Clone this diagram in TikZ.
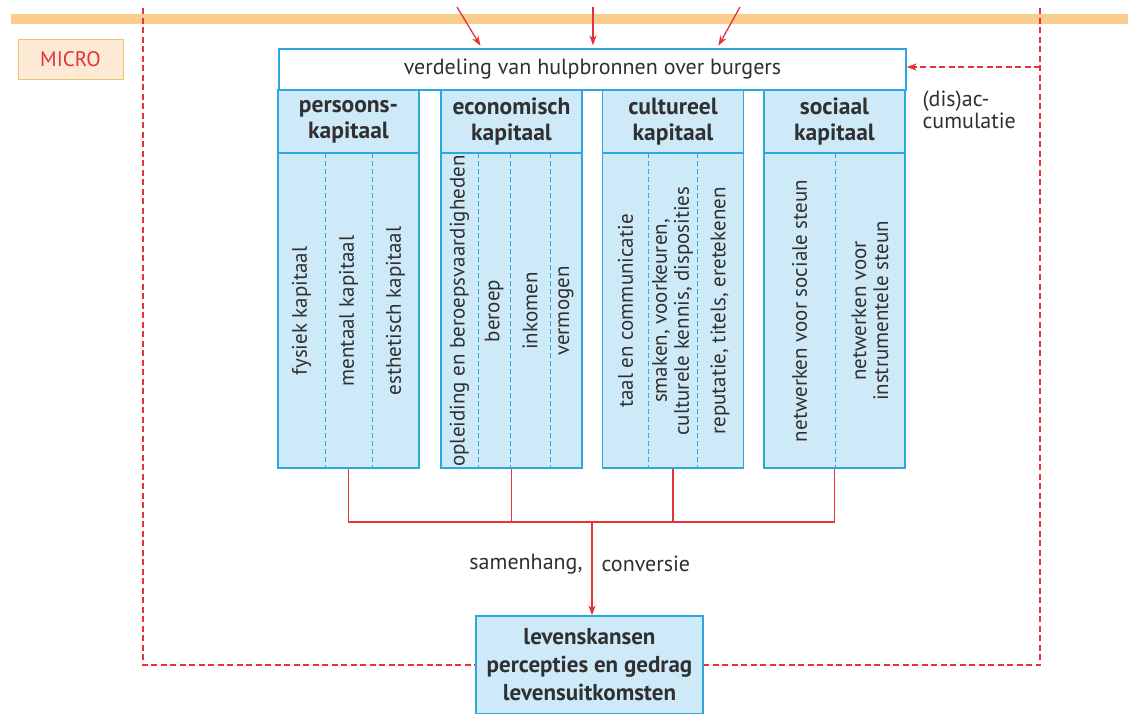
\documentclass[tikz,border=0pt]{standalone}
\usepackage{fontspec}
\setmainfont{PT Sans}
\usetikzlibrary{arrows.meta}
\definecolor{kapblauw}{RGB}{45,168,222}
\definecolor{kapvul}{RGB}{206,234,248}
\definecolor{kaprood}{RGB}{228,50,56}
\definecolor{kaporanje}{RGB}{250,204,142}
\definecolor{microvul}{RGB}{253,234,214}
\definecolor{microlijn}{RGB}{240,196,104}
\definecolor{kaptekst}{RGB}{48,48,48}

\begin{document}
\begin{tikzpicture}[x=1pt, y=-1pt, >={Stealth[length=10pt, width=7pt]},
    every node/.style={text=kaptekst, font=\fontsize{22}{22}\selectfont},
    kolom/.style={draw=kapblauw, fill=kapvul, line width=1.3pt},
    kop/.style={kolom, minimum width=141, minimum height=63, align=center,
      font=\bfseries\fontsize{23.5}{26}\selectfont},
    deel/.style={kolom, minimum width=141, minimum height=315},
    scheiding/.style={draw=kapblauw, line width=0.9pt, dash pattern=on 5pt off 3pt},
    staand/.style={rotate=90, align=center, font=\fontsize{21}{22}\selectfont},
    rood/.style={draw=kaprood, line width=1.3pt},
    terug/.style={draw=kaprood, line width=1.4pt, dash pattern=on 6pt off 3.5pt}]
    \clip (0, 0) rectangle (1128, 713);
    % band
    \draw[kaporanje, line width=10pt] (11, 19) -- (1128, 19);
    \node[draw=microlijn, fill=microvul, line width=1pt, minimum width=105, minimum height=40,
      text=kaprood, font=\fontsize{21}{22}\selectfont] (micro) at (70.5, 59) {MICRO};
    % verdeling
    \node[draw=kapblauw, fill=white, line width=1.3pt, minimum width=627, minimum height=41]
      (verdeling) at (592.5, 69.5) {verdeling van hulpbronnen over burgers};
    % kapitaalsoorten
    \node[kop] (pkop) at (348.5, 121.5) {persoons-\\kapitaal};
    \node[kop] (ekop) at (511.5, 121.5) {economisch\\kapitaal};
    \node[kop] (ckop) at (673, 121.5) {cultureel\\kapitaal};
    \node[kop] (skop) at (834.5, 121.5) {sociaal\\kapitaal};
    \node[deel] (pdeel) at (348.5, 310.5) {};
    \node[deel] (edeel) at (511.5, 310.5) {};
    \node[deel] (cdeel) at (673, 310.5) {};
    \node[deel] (sdeel) at (834.5, 310.5) {};
    \foreach \x in {325, 372, 478, 510, 550, 648, 697, 835}
      \draw[scheiding] (\x, 153) -- (\x, 468);
    \node[staand] (fysiek) at (301.5, 311) {fysiek kapitaal};
    \node[staand] (mentaal) at (348.5, 311) {mentaal kapitaal};
    \node[staand] (esthetisch) at (395.5, 311) {esthetisch kapitaal};
    \node[staand] (opleiding) at (459.5, 311) {opleiding en beroepsvaardigheden};
    \node[staand] (beroep) at (494, 311) {beroep};
    \node[staand] (inkomen) at (530, 311) {inkomen};
    \node[staand] (vermogen) at (566, 311) {vermogen};
    \node[staand] (taal) at (625.5, 311) {taal en communicatie};
    \node[staand] (smaken) at (672.5, 311) {smaken, voorkeuren,\\culturele kennis, disposities};
    \node[staand] (reputatie) at (720, 311) {reputatie, titels, eretekenen};
    \node[staand] (sociale) at (799.5, 311) {netwerken voor sociale steun};
    \node[staand] (instrumentele) at (870, 311) {netwerken voor\\instrumentele steun};
    % uitkomsten
    \node[kolom, minimum width=227, minimum height=98, align=center,
      font=\bfseries\fontsize{23}{28}\selectfont] (uitkomst) at (589.5, 665)
      {levenskansen\\percepties en gedrag\\levensuitkomsten};
    \coordinate (samen) at (592, 522);
    \draw[rood] (pdeel.south) -- (pdeel.south |- samen) -- (sdeel.south |- samen) -- (sdeel.south);
    \draw[rood] (edeel.south) -- (edeel.south |- samen);
    \draw[rood] (cdeel.south) -- (cdeel.south |- samen);
    \draw[rood, ->] (samen) -- (samen |- uitkomst.north);
    \node[anchor=east] (samenhang) at (586, 564) {samenhang,};
    \node[anchor=west] (conversie) at (598, 564) {conversie};
    % terugkoppeling
    \coordinate (linksboven) at (143, 8);
    \coordinate (rechtsboven) at (1040, 8);
    \coordinate (accin) at ([yshift=2.5pt]verdeling.east);
    \draw[terug] (linksboven) |- (uitkomst.west);
    \draw[terug] (rechtsboven) |- (uitkomst.east);
    \draw[terug, ->] (rechtsboven |- accin) -- (accin);
    \node[anchor=north west, align=left] (accumulatie) at (919, 87) {(dis)ac-\\cumulatie};
    % invloeden van boven
    \coordinate (bron1) at (457, 7);
    \coordinate (bron2) at (593, 7);
    \coordinate (bron3) at (740, 7);
    \draw[rood, ->, shorten >=3pt] (bron1) -- ([xshift=-110.5pt]verdeling.north);
    \draw[rood, ->, shorten >=3pt] (bron2) -- (bron2 |- verdeling.north);
    \draw[rood, ->, shorten >=3pt] (bron3) -- ([xshift=124.5pt]verdeling.north);
\end{tikzpicture}
\end{document}
